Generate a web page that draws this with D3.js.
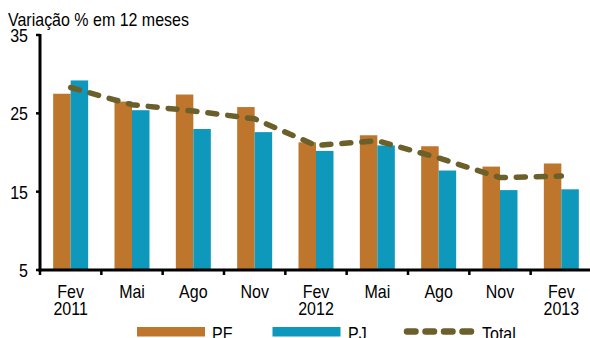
<!DOCTYPE html>
<html>
<head>
<meta charset="utf-8">
<script src="https://cdn.jsdelivr.net/npm/d3@7"></script>
<style>
  html, body { margin: 0; padding: 0; background: #fff; }
  svg { display: block; font-family: "Liberation Sans", Arial, sans-serif; }
</style>
</head>
<body>
<svg id="chart" width="590" height="338"></svg>
<script>
// Period labels (month, optional year on second line)
const months = ["Fev", "Mai", "Ago", "Nov", "Fev", "Mai", "Ago", "Nov", "Fev"];
const years  = ["2011", "", "", "", "2012", "", "", "", "2013"];
// Growth over 12 months, %
const pf    = [27.5, 26.5, 27.4, 25.8, 21.3, 22.2, 20.8, 18.2, 18.6];
const pj    = [29.2, 25.4, 23.0, 22.6, 20.2, 20.9, 17.7, 15.2, 15.3];
const total = [28.3, 26.1, 25.3, 24.3, 20.9, 21.5, 19.3, 16.8, 17.0];
const yTicks = [5, 15, 25, 35];

const colors = { pf: "#bd762c", pj: "#0e98bb", total: "#6b5f2b" };

const svg = d3.select("#chart");
const margin = { left: 40, right: -2, top: 35, bottom: 68 };
const W = 590, H = 338;
const idx = d3.range(months.length);
const FS = 16, STRETCH = 1.2;

const x = d3.scaleBand().domain(idx).range([margin.left, W - margin.right]);
const y = d3.scaleLinear().domain([5, 35]).range([H - margin.bottom, margin.top]);

const barW = 17.5;

// Text drawn slightly taller than wide
function label(parent, px, py, str, anchor) {
  return parent.append("text")
    .attr("transform", `translate(${px},${py}) scale(1,${STRETCH})`)
    .attr("font-size", FS).attr("fill", "#000")
    .attr("text-anchor", anchor || "start")
    .text(str);
}

// Title
label(svg, 8, 25.5, "Variação % em 12 meses");

// Bars
const g = svg.append("g");
g.selectAll("rect.pf").data(pf).join("rect")
  .attr("class", "pf")
  .attr("x", (d, i) => x(i) + x.bandwidth() / 2 - barW)
  .attr("width", barW)
  .attr("y", d => y(d))
  .attr("height", d => y(5) - y(d))
  .attr("fill", colors.pf);
g.selectAll("rect.pj").data(pj).join("rect")
  .attr("class", "pj")
  .attr("x", (d, i) => x(i) + x.bandwidth() / 2)
  .attr("width", barW)
  .attr("y", d => y(d))
  .attr("height", d => y(5) - y(d))
  .attr("fill", colors.pj);

// Total line (dashed)
const line = d3.line()
  .x((d, i) => x(i) + x.bandwidth() / 2)
  .y(d => y(d));
svg.append("path").datum(total)
  .attr("d", line)
  .attr("fill", "none")
  .attr("stroke", colors.total)
  .attr("stroke-width", 5.5)
  .attr("stroke-linecap", "round")
  .attr("stroke-linejoin", "round")
  .attr("stroke-dasharray", "9 11");

// Y axis
svg.append("line")
  .attr("x1", margin.left).attr("x2", margin.left)
  .attr("y1", y(35) - 1).attr("y2", y(5) + 1.5)
  .attr("stroke", "#000").attr("stroke-width", 3);
const ya = svg.append("g");
yTicks.forEach(t => {
  ya.append("line")
    .attr("x1", margin.left - 4).attr("x2", margin.left)
    .attr("y1", y(t)).attr("y2", y(t))
    .attr("stroke", "#000").attr("stroke-width", 2.5);
  label(ya, 28, y(t) + 7, String(t), "end");
});

// X axis
const xBase = y(5);
svg.append("line")
  .attr("x1", margin.left - 1.5).attr("x2", W)
  .attr("y1", xBase).attr("y2", xBase)
  .attr("stroke", "#000").attr("stroke-width", 3);
svg.append("g").selectAll("line").data(idx.concat([months.length])).join("line")
  .attr("x1", i => margin.left + i * x.bandwidth())
  .attr("x2", i => margin.left + i * x.bandwidth())
  .attr("y1", xBase).attr("y2", xBase + 5)
  .attr("stroke", "#000").attr("stroke-width", 2.5);

const xl = svg.append("g");
months.forEach((m, i) => {
  const cx = x(i) + x.bandwidth() / 2;
  label(xl, cx, xBase + 27.5, m, "middle");
  if (years[i]) label(xl, cx, xBase + 45, years[i], "middle");
});

// Legend
const leg = svg.append("g");
const ly = 331.5;
leg.append("rect").attr("x", 137).attr("y", ly - 4.5).attr("width", 68).attr("height", 9.5).attr("fill", colors.pf);
label(leg, 212, ly + 8, "PF");
leg.append("rect").attr("x", 272.5).attr("y", ly - 4.5).attr("width", 68).attr("height", 9.5).attr("fill", colors.pj);
label(leg, 348, ly + 8, "PJ");
leg.append("line").attr("x1", 407).attr("x2", 475).attr("y1", ly).attr("y2", ly)
  .attr("stroke", colors.total).attr("stroke-width", 6.5)
  .attr("stroke-linecap", "round").attr("stroke-dasharray", "8.5 10");
label(leg, 482, ly + 8, "Total");
</script>
</body>
</html>
